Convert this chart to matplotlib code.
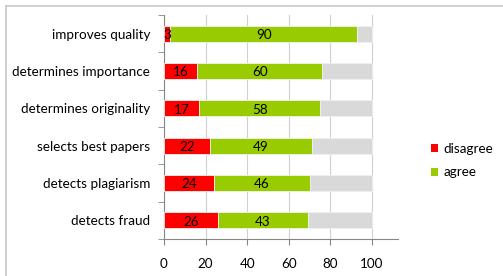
import matplotlib
matplotlib.use("Agg")
import matplotlib.pyplot as plt
from matplotlib.lines import Line2D
from matplotlib.patches import Patch

categories = ["improves quality", "determines importance", "determines originality",
              "selects best papers", "detects plagiarism", "detects fraud"]
disagree = [3, 16, 17, 22, 24, 26]
agree = [90, 60, 58, 49, 46, 43]
total = [100, 100, 100, 100, 100, 100]
xticks = [0, 20, 40, 60, 80, 100]

plt.rcParams['font.family'] = ['Lato', 'DejaVu Sans']

W, H = 503, 276
fig = plt.figure(figsize=(W / 100, H / 100), dpi=100)
ax = fig.add_axes([164 / W, 1 - 239 / H, (398 - 164) / W, (239 - 15) / H])

n = len(categories)
ys = list(range(n - 1, -1, -1))
h = 0.42
red = "#ff0000"
green = "#99cc00"
grey = "#d9d9d9"
fs = 9.7

rest = [t - d - a for t, d, a in zip(total, disagree, agree)]
left_rest = [d + a for d, a in zip(disagree, agree)]
ax.barh(ys, disagree, height=h, color=red, edgecolor="#f0f0f0", linewidth=0.6, zorder=3)
ax.barh(ys, agree, left=disagree, height=h, color=green, edgecolor="#f0f0f0", linewidth=0.6, zorder=3)
ax.barh(ys, rest, left=left_rest, height=h, color=grey, edgecolor="#f0f0f0", linewidth=0.6, zorder=3)

for y, d, a in zip(ys, disagree, agree):
    ax.text(d / 2, y - 0.04, str(d), ha="center", va="center", fontsize=fs, color="black", zorder=4)
    ax.text(d + a / 2, y - 0.04, str(a), ha="center", va="center", fontsize=fs, color="black", zorder=4)

ax.set_xlim(0, 112.5)
ax.set_ylim(-0.5, n - 0.5)
ax.set_xticks(xticks)
ax.set_xticklabels([str(t) for t in xticks], fontsize=fs)
ax.set_yticks(ys)
ax.set_yticklabels(categories, fontsize=fs)
ax.set_yticks([i - 0.5 for i in range(n + 1)], minor=True)
ax.tick_params(axis="y", which="major", length=0, pad=10)
ax.tick_params(axis="y", which="minor", length=4, color="#868686", direction="out")
ax.tick_params(axis="x", length=4, color="#868686", pad=10)
ax.grid(axis="x", color="#d0d0d0", linewidth=0.8, zorder=0)
for s in ["top", "right"]:
    ax.spines[s].set_visible(False)
for s in ["left", "bottom"]:
    ax.spines[s].set_color("#868686")
    ax.spines[s].set_linewidth(0.8)

handles = [Patch(facecolor=red, edgecolor="none"), Patch(facecolor=green, edgecolor="none")]
fig.legend(handles, ["disagree", "agree"], loc="upper left",
           bbox_to_anchor=(431 / W, 1 - 143 / H), frameon=False, fontsize=fs,
           borderpad=0, borderaxespad=0,
           handlelength=0.55, handleheight=0.55, handletextpad=0.4, labelspacing=0.85)

fig.add_artist(Line2D([6 / W, 6 / W], [0, 1 - 6 / H], transform=fig.transFigure,
                      color="#c8c8c8", linewidth=1.2))
fig.add_artist(Line2D([6 / W, 1], [1 - 6 / H, 1 - 6 / H], transform=fig.transFigure,
                      color="#c8c8c8", linewidth=1.2))

fig.savefig("out.png", dpi=100)
